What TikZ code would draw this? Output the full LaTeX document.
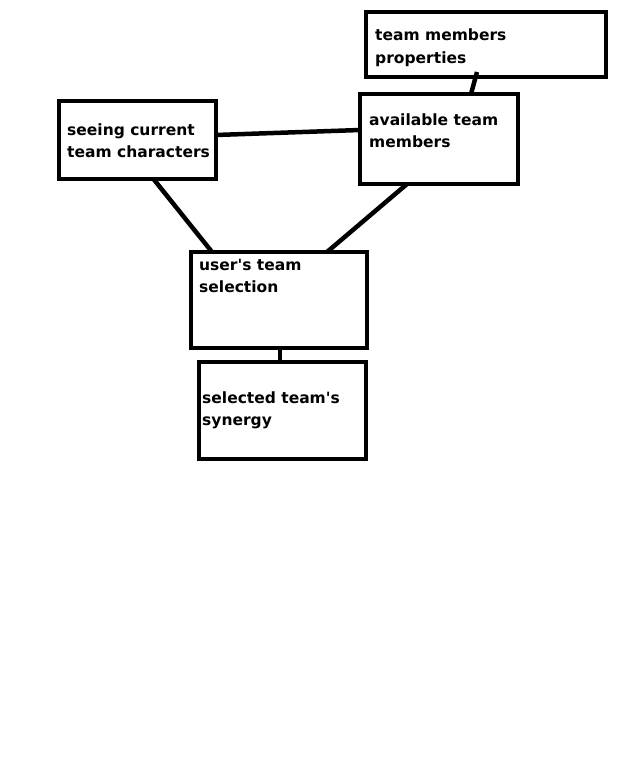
\documentclass[tikz,border=0pt]{standalone}
\usepackage{fontspec}
\setmainfont{DejaVu Sans}
\usepackage{tikz}
\usetikzlibrary{positioning, calc}
\tikzset{box/.style={draw, rectangle, line width=4.5pt, inner sep=0pt, outer sep=0pt}}
\tikzset{boxtext/.style={anchor=base west, align=left, inner sep=0pt, font=\fontsize{15.5}{22.7}\selectfont\bfseries}}
\tikzset{link/.style={line width=4.5pt}}

\begin{document}
\begin{tikzpicture}[x=1pt, y=-1pt]
      \useasboundingbox (0,0) rectangle (619,757);

      \node[box, minimum width=240pt, minimum height=65pt] (props) at (486,44.5)
        [label={[boxtext, xshift=9pt, yshift=-51.7pt]north west:team members\\properties}] {};

      \node[box, minimum width=158pt, minimum height=90pt] (avail) at (439,139)
        [label={[boxtext, xshift=9pt, yshift=-53.7pt]north west:available team\\members}] {};

      \node[box, minimum width=157pt, minimum height=78pt] (seeing) at (137.5,140)
        [label={[boxtext, xshift=8pt, yshift=-56.7pt]north west:seeing current\\team characters}] {};

      \node[box, minimum width=176pt, minimum height=96pt] (users) at (279,300)
        [label={[boxtext, xshift=8pt, yshift=-40.7pt]north west:user\textquotesingle s team\\selection}] {};

      \node[box, minimum width=167pt, minimum height=97pt] (synergy) at (282.5,410.5)
        [label={[boxtext, xshift=3pt, yshift=-63.7pt]north west:selected team\textquotesingle s\\synergy}] {};

      \draw[link] ([yshift=5pt]seeing.east) -- ([yshift=9pt]avail.west);
      \draw[link] ([xshift=-9pt, yshift=5pt]props.south) -- ([xshift=32pt]avail.north);
      \draw[link] ([xshift=16pt]seeing.south) -- ([xshift=-67pt]users.north);
      \draw[link] ([xshift=-32pt]avail.south) -- ([xshift=48pt]users.north);
      \draw[link] ([xshift=1pt]users.south) -- ([xshift=-2.5pt]synergy.north);

    \end{tikzpicture}
\end{document}
